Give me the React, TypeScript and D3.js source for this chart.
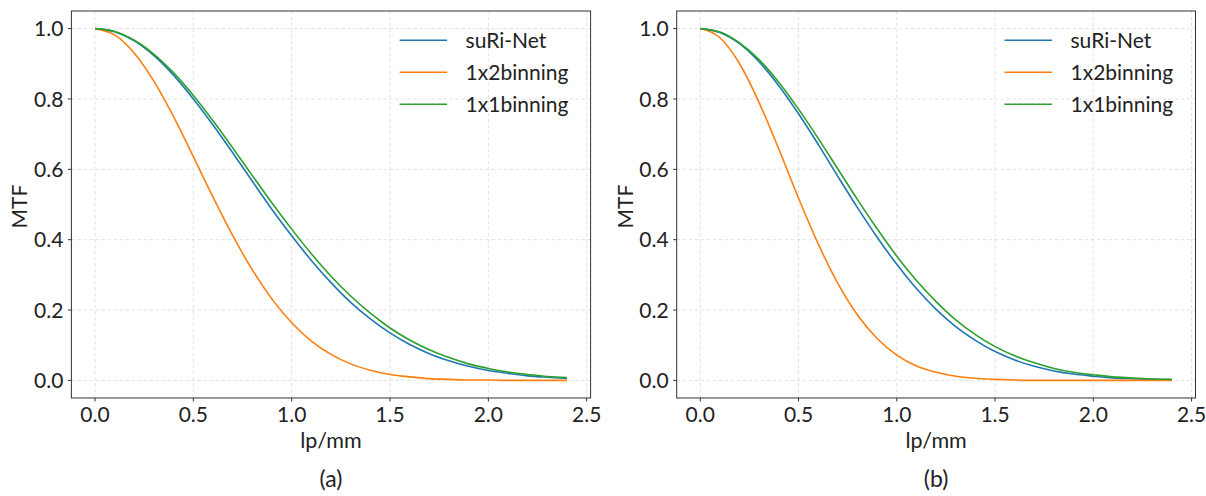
import React from "react";
import * as d3 from "d3";

const freqs = [0, 0.1, 0.2, 0.3, 0.4, 0.5, 0.6, 0.7, 0.8, 0.9, 1.0, 1.1, 1.2, 1.3, 1.4, 1.5, 1.6, 1.7, 1.8, 1.9, 2.0, 2.1, 2.2, 2.3, 2.4];

const seriesNames = ["suRi-Net", "1x2binning", "1x1binning"];
const seriesColors = ["#1f77b4", "#ff7f0e", "#2ca02c"];

// Panel (a)
const aSuRiNet = [1.0, 0.991, 0.965, 0.923, 0.867, 0.800, 0.726, 0.647, 0.566, 0.486, 0.411, 0.341, 0.278, 0.222, 0.175, 0.135, 0.102, 0.076, 0.056, 0.040, 0.028, 0.020, 0.013, 0.009, 0.006];
const a1x2 = [1.0, 0.982, 0.930, 0.850, 0.749, 0.636, 0.521, 0.412, 0.314, 0.231, 0.164, 0.112, 0.074, 0.047, 0.029, 0.017, 0.010, 0.005, 0.003, 0.001, 0.001, 0.0, 0.0, 0.0, 0.0];
const a1x1 = [1.0, 0.992, 0.967, 0.927, 0.874, 0.810, 0.738, 0.661, 0.582, 0.504, 0.430, 0.360, 0.296, 0.240, 0.191, 0.149, 0.115, 0.087, 0.065, 0.047, 0.034, 0.024, 0.017, 0.011, 0.008];

// Panel (b)
const bSuRiNet = [1.0, 0.989, 0.957, 0.905, 0.837, 0.758, 0.671, 0.580, 0.491, 0.407, 0.330, 0.261, 0.202, 0.153, 0.114, 0.082, 0.058, 0.040, 0.027, 0.018, 0.012, 0.007, 0.005, 0.003, 0.002];
const b1x2 = [1.0, 0.974, 0.900, 0.789, 0.657, 0.518, 0.388, 0.276, 0.186, 0.119, 0.072, 0.041, 0.023, 0.012, 0.006, 0.003, 0.001, 0.0, 0.0, 0.0, 0.0, 0.0, 0.0, 0.0, 0.0];
const b1x1 = [1.0, 0.990, 0.959, 0.911, 0.847, 0.771, 0.688, 0.601, 0.514, 0.431, 0.353, 0.284, 0.224, 0.172, 0.130, 0.096, 0.070, 0.050, 0.034, 0.023, 0.016, 0.010, 0.007, 0.004, 0.003];

const xTicks = [0, 0.5, 1.0, 1.5, 2.0, 2.5];
const yTicks = [0, 0.2, 0.4, 0.6, 0.8, 1.0];
const xLabel = "lp/mm";
const yLabel = "MTF";
const panelLabels = ["(a)", "(b)"];

const FONT = "Lato, 'Open Sans', sans-serif";

type PanelProps = {
  left: number;
  right: number;
  top: number;
  bottom: number;
  series: number[][];
  label: string;
};

function Panel({ left, right, top, bottom, series, label }: PanelProps) {
  const x = d3.scaleLinear().domain([-0.12, 2.52]).range([left, right]);
  const y = d3.scaleLinear().domain([-0.05, 1.05]).range([bottom, top]);
  const line = d3
    .line<number>()
    .x((_, i) => x(freqs[i]))
    .y((v) => y(v))
    .curve(d3.curveMonotoneX);
  const drawOrder = [0, 1, 2];
  const cx = (left + right) / 2;
  const cy = (top + bottom) / 2;
  const legX = right - 191;
  return (
    <g>
      {/* grid */}
      {xTicks.map((t) => (
        <line key={"gx" + t} x1={x(t)} x2={x(t)} y1={top} y2={bottom} stroke="#dcdcdc" strokeWidth={0.8} strokeDasharray="3.5,2.5" />
      ))}
      {yTicks.map((t) => (
        <line key={"gy" + t} x1={left} x2={right} y1={y(t)} y2={y(t)} stroke="#dcdcdc" strokeWidth={0.8} strokeDasharray="3.5,2.5" />
      ))}
      {/* series */}
      {drawOrder.map((i) => (
        <path key={"s" + i} d={line(series[i]) || ""} fill="none" stroke={seriesColors[i]} strokeWidth={1.6} />
      ))}
      {/* frame */}
      <rect x={left} y={top} width={right - left} height={bottom - top} fill="none" stroke="#333" strokeWidth={1} />
      {/* x ticks */}
      {xTicks.map((t) => (
        <g key={"xt" + t}>
          <line x1={x(t)} x2={x(t)} y1={bottom} y2={bottom + 3.5} stroke="#333" strokeWidth={1} />
          <text x={x(t)} y={422} textAnchor="middle" fontSize={21} fontFamily={FONT} fill="#222">
            {t.toFixed(1)}
          </text>
        </g>
      ))}
      {/* y ticks */}
      {yTicks.map((t) => (
        <g key={"yt" + t}>
          <line x1={left - 3.5} x2={left} y1={y(t)} y2={y(t)} stroke="#333" strokeWidth={1} />
          <text x={left - 8} y={y(t)} dy="0.36em" textAnchor="end" fontSize={21} fontFamily={FONT} fill="#222">
            {t.toFixed(1)}
          </text>
        </g>
      ))}
      {/* axis labels */}
      <text x={cx} y={448} textAnchor="middle" fontSize={21.5} fontFamily={FONT} fill="#222">
        {xLabel}
      </text>
      <text transform={`translate(${left - 44},${cy + 2}) rotate(-90)`} textAnchor="middle" fontSize={21} fontFamily={FONT} fill="#222">
        {yLabel}
      </text>
      {/* panel label */}
      <text x={cx} y={487} textAnchor="middle" fontSize={23} fontFamily={FONT} fill="#222">
        {label}
      </text>
      {/* legend */}
      {seriesNames.map((n, i) => (
        <g key={"l" + i}>
          <line x1={legX} x2={legX + 47.5} y1={40.3 + i * 32} y2={40.3 + i * 32} stroke={seriesColors[i]} strokeWidth={1.6} />
          <text x={legX + 66} y={40.3 + i * 32} dy="0.36em" fontSize={21} fontFamily={FONT} fill="#222">
            {n}
          </text>
        </g>
      ))}
    </g>
  );
}

export default function App() {
  return (
    <svg width={1206} height={496} style={{ position: "absolute", left: 0, top: 0, background: "#fff" }}>
      <rect width={1206} height={496} fill="#fff" />
      <Panel left={71.4} right={590.6} top={11} bottom={398} series={[aSuRiNet, a1x2, a1x1]} label={panelLabels[0]} />
      <Panel left={676.7} right={1195.5} top={11} bottom={398} series={[bSuRiNet, b1x2, b1x1]} label={panelLabels[1]} />
    </svg>
  );
}
